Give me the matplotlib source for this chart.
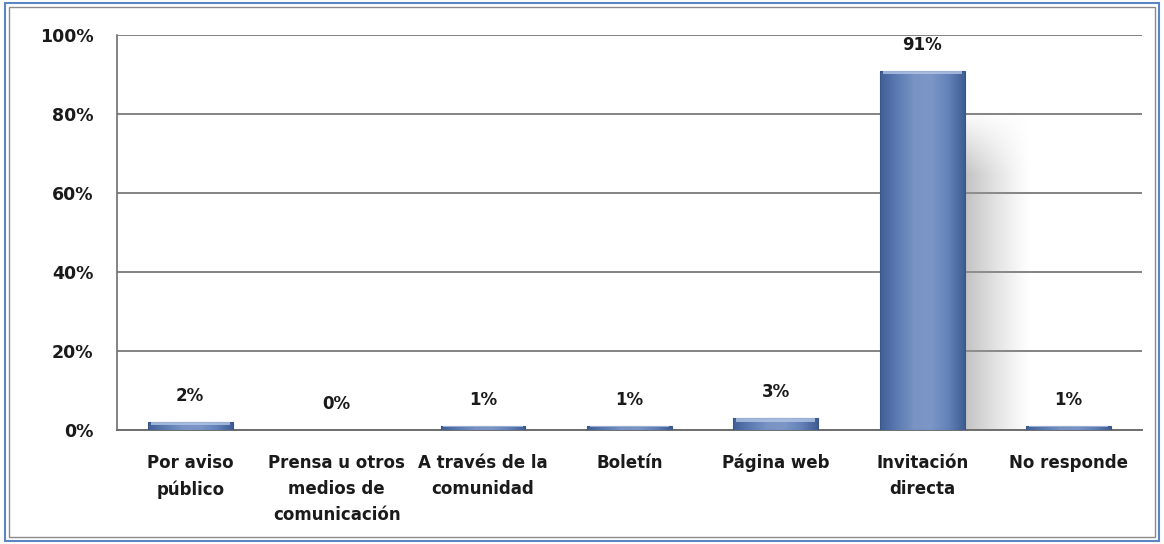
import matplotlib.pyplot as plt
import numpy as np
from matplotlib.colors import LinearSegmentedColormap
from matplotlib.patches import Rectangle

categories = [
    "Por aviso\npúblico",
    "Prensa u otros\nmedios de\ncomunicación",
    "A través de la\ncomunidad",
    "Boletín",
    "Página web",
    "Invitación\ndirecta",
    "No responde",
]
values = [2, 0, 1, 1, 3, 91, 1]
labels = ["2%", "0%", "1%", "1%", "3%", "91%", "1%"]
yticks = [0, 20, 40, 60, 80, 100]

plt.rcParams["font.family"] = ["DejaVu Sans"]

fig = plt.figure(figsize=(11.64, 5.44), dpi=100)
ax = fig.add_axes([0.1005, 0.2096, 0.8805, 0.7261])

x = np.arange(len(categories))
width = 0.58

# horizontal gradient for the bar bodies
bar_cmap = LinearSegmentedColormap.from_list(
    "bar", ["#3f5f96", "#5b7bb2", "#7893c4", "#7c97c7", "#6483ba", "#3f5d92"]
)
grad = np.linspace(0, 1, 256).reshape(1, -1)

# soft shadow behind the tall bar (fades right, rounded top)
sx = np.linspace(0, 1, 200)
sy = np.linspace(0, 1, 300)
SX, SY = np.meshgrid(sx, sy)
fade_x = np.clip(1 - SX, 0, 1) ** 1.2
fade_y = np.clip(SY / 0.2, 0, 1)
shadow_rgba = np.zeros((300, 200, 4))
shadow_rgba[..., :3] = 0.6
shadow_rgba[..., 3] = 0.6 * fade_x * fade_y

for xi, v, lab in zip(x, values, labels):
    left = xi - width / 2
    right = xi + width / 2
    if v > 20:
        ax.imshow(
            shadow_rgba,
            extent=[right, right + 0.45, 0, v - 10],
            origin="upper",
            aspect="auto",
            zorder=1,
            interpolation="bilinear",
        )
    if v > 0:
        im = ax.imshow(
            grad,
            cmap=bar_cmap,
            extent=[left, right, 0, v],
            aspect="auto",
            zorder=3,
            interpolation="bilinear",
        )
        rect = Rectangle((left, 0), width, v, transform=ax.transData)
        im.set_clip_path(rect)
        ax.add_patch(
            Rectangle((left, 0), width, v, fill=False, edgecolor="#3a5688",
                      linewidth=0.8, zorder=4)
        )
        # light bevel on top
        bev = min(1.0, v * 0.35)
        ax.add_patch(
            Rectangle((left + 0.02, v - bev), width - 0.04, bev,
                      facecolor="#b3c6e6", edgecolor="none", alpha=0.8, zorder=4)
        )
    ax.text(xi, v + 4.3, lab, ha="center", va="bottom", fontsize=12,
            fontweight="bold", color="#1a1a1a", zorder=5)

ax.set_xlim(-0.5, len(categories) - 0.5)
ax.set_ylim(0, 100)
ax.set_yticks(yticks)
ax.set_yticklabels([f"{t}%" for t in yticks], fontsize=12.5, fontweight="bold",
                   color="#1a1a1a")
ax.set_xticks(x)
ax.set_xticklabels(categories, fontsize=12, color="#1a1a1a", linespacing=1.6,
                   fontweight="bold")
ax.tick_params(axis="both", length=0)
ax.tick_params(axis="y", pad=17)
ax.tick_params(axis="x", pad=17)

ax.yaxis.grid(True, color="#6e6e6e", linewidth=1.2, zorder=0)
ax.set_axisbelow(True)
for side in ["top", "right"]:
    ax.spines[side].set_visible(False)
ax.spines["left"].set_color("#6e6e6e")
ax.spines["left"].set_linewidth(1.2)
ax.spines["bottom"].set_color("#6e6e6e")
ax.spines["bottom"].set_linewidth(1.4)

# outer frame
fig.patches.append(
    Rectangle((0.004, 0.006), 0.992, 0.988, transform=fig.transFigure,
              fill=False, edgecolor="#5b86c4", linewidth=1.5)
)
fig.patches.append(
    Rectangle((0.008, 0.012), 0.984, 0.976, transform=fig.transFigure,
              fill=False, edgecolor="#8a8a8a", linewidth=1.0)
)

fig.savefig("out.png", dpi=100)
